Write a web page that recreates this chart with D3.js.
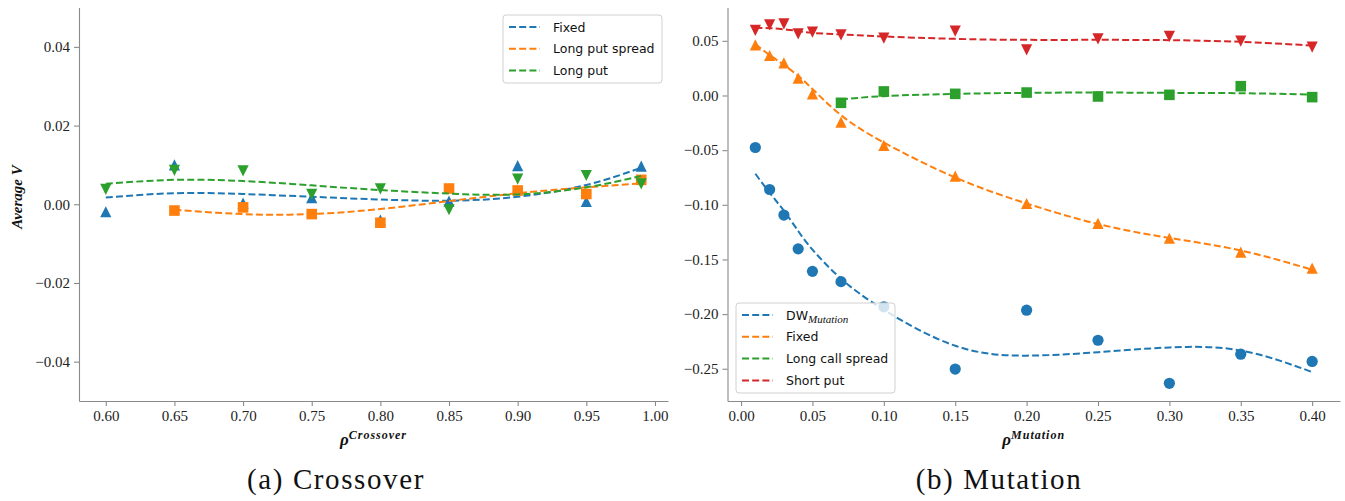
<!DOCTYPE html>
<html><head><meta charset="utf-8">
<script src="https://cdn.jsdelivr.net/npm/d3@7"></script>
<style>body{margin:0;background:#fff}</style>
</head><body><svg id="c" width="1345" height="501"></svg>
<script>
// ---------- data: (a) Crossover ----------
const crossX = [0.60,0.65,0.70,0.75,0.80,0.85,0.90,0.95,0.99];
const crossSpreadX = [0.65,0.70,0.75,0.80,0.85,0.90,0.95,0.99];
const crossFixed = [-0.0019,0.0100,0.0003,0.0017,-0.0040,0.0008,0.0098,0.0007,0.0097];
const crossSpread = [-0.0016,-0.0008,-0.0025,-0.0047,0.0040,0.0035,0.0026,0.0062];
const crossLongPut = [0.0038,0.0086,0.0085,0.0025,0.0039,-0.0014,0.0064,0.0073,0.0052];
const crossFixedFit = [0.0017,0.0028,0.0026,0.0019,0.0012,0.0009,0.0019,0.0049,0.0093];
const crossSpreadFit = [-0.0014,-0.0025,-0.0025,-0.0012,0.0008,0.0028,0.0043,0.0053];
const crossLongPutFit = [0.0052,0.0062,0.0059,0.0048,0.0036,0.0027,0.0025,0.0043,0.0072];
const crossXTicks = [0.60,0.65,0.70,0.75,0.80,0.85,0.90,0.95,1.00];
const crossYTicks = [-0.04,-0.02,0.00,0.02,0.04];

// ---------- data: (b) Mutation ----------
const mutX = [0.01,0.02,0.03,0.04,0.05,0.07,0.10,0.15,0.20,0.25,0.30,0.35,0.40];
const mutSpreadX = [0.07,0.10,0.15,0.20,0.25,0.30,0.35,0.40];
const mutDW = [-0.0476,-0.0860,-0.1094,-0.1403,-0.1609,-0.1703,-0.1933,-0.2503,-0.1964,-0.2239,-0.2633,-0.2367,-0.2433];
const mutFixed = [0.0463,0.0366,0.0299,0.0159,0.0015,-0.0244,-0.0457,-0.0738,-0.0988,-0.1170,-0.1306,-0.1433,-0.1579];
const mutSpread = [-0.0067,0.0037,0.0015,0.0027,-0.0009,0.0006,0.0085,-0.0015];
const mutShortPut = [0.0595,0.0646,0.0655,0.0564,0.0579,0.0555,0.0524,0.0588,0.0418,0.0518,0.0540,0.0497,0.0442];
const mutDWFit = [-0.0716,-0.0890,-0.1055,-0.1240,-0.1410,-0.1676,-0.1960,-0.2290,-0.2380,-0.2348,-0.2305,-0.2333,-0.2530];
const mutFixedFit = [0.0470,0.0370,0.0280,0.0180,0.0060,-0.0180,-0.0430,-0.0750,-0.0988,-0.1176,-0.1303,-0.1418,-0.1594];
const mutSpreadFit = [-0.0037,-0.0006,0.0015,0.0024,0.0027,0.0024,0.0021,0.0009];
const mutShortPutFit = [0.0619,0.0616,0.0605,0.0590,0.0573,0.0558,0.0540,0.0518,0.0509,0.0509,0.0506,0.0491,0.0457];
const mutXTicks = [0.00,0.05,0.10,0.15,0.20,0.25,0.30,0.35,0.40];
const mutYTicks = [-0.25,-0.20,-0.15,-0.10,-0.05,0.00,0.05];

const C = {blue:"#1f77b4", orange:"#ff7f0e", green:"#2ca02c", red:"#d62728"};
const svg = d3.select("#c");
const tickFont = "'Liberation Serif', serif";
const sansFont = "'DejaVu Sans', sans-serif";

function markerPath(kind){
  const s = 5.6;
  if(kind==="up") return `M0,${-s}L${s},${s}L${-s},${s}Z`;
  if(kind==="down") return `M0,${s}L${s},${-s}L${-s},${-s}Z`;
  if(kind==="square") return `M${-5.3},${-5.3}h10.6v10.6h-10.6Z`;
  return d3.symbol(d3.symbolCircle, Math.PI*5.6*5.6)();
}

function panel(cfg){
  const x = d3.scaleLinear().domain(cfg.xdom).range(cfg.xr);
  const y = d3.scaleLinear().domain(cfg.ydom).range(cfg.yr);
  const g = svg.append("g");
  const fmt = d3.format(".2f");
  const ax = g.append("g").attr("transform",`translate(0,${cfg.yr[0]})`)
    .call(d3.axisBottom(x).tickValues(cfg.xticks).tickFormat(fmt).tickSize(5).tickPadding(4).tickSizeOuter(0));
  const ay = g.append("g").attr("transform",`translate(${cfg.xr[0]},0)`)
    .call(d3.axisLeft(y).tickValues(cfg.yticks).tickFormat(fmt).tickSize(5).tickPadding(4).tickSizeOuter(0));
  [ax,ay].forEach(a=>{
    a.select(".domain").attr("stroke","#8a8a8a").attr("stroke-width",1.1);
    a.selectAll(".tick line").attr("stroke","#8a8a8a").attr("stroke-width",1.1);
    a.selectAll(".tick text").attr("fill","#222").style("font-family",tickFont).style("font-size","15px");
  });
  const line = d3.line().x(d=>x(d[0])).y(d=>y(d[1])).curve(d3.curveNatural);
  cfg.series.forEach(s=>{
    const pts = s.xs.map((v,i)=>[v,s.ys[i]]);
    g.append("g").selectAll("path").data(pts).join("path")
      .attr("d",markerPath(s.marker))
      .attr("transform",d=>`translate(${x(d[0])},${y(d[1])})`)
      .attr("fill",s.color);
    const fit = s.xs.map((v,i)=>[v,s.fit[i]]);
    g.append("path").attr("d",line(fit)).attr("fill","none")
      .attr("stroke",s.color).attr("stroke-width",2).attr("stroke-dasharray","7,3.2");
  });
  // legend
  const L = cfg.legend;
  const lg = g.append("g");
  lg.append("rect").attr("x",L.x).attr("y",L.y).attr("width",L.w).attr("height",L.h)
    .attr("rx",3).attr("fill","#fff").attr("fill-opacity",0.8).attr("stroke","#d0d0d0");
  cfg.series.forEach((s,i)=>{
    const yy = L.y + 12 + i*21.8;
    lg.append("line").attr("x1",L.x+6).attr("x2",L.x+37).attr("y1",yy).attr("y2",yy)
      .attr("stroke",s.color).attr("stroke-width",2).attr("stroke-dasharray","7,3.2");
    const t = lg.append("text").attr("x",L.x+50).attr("y",yy+4.5)
      .style("font-family",sansFont).style("font-size","12.5px").attr("fill","#111");
    t.append("tspan").text(s.name);
    if(s.sub) t.append("tspan").attr("dy",3).style("font-family",tickFont)
      .style("font-style","italic").style("font-size","11px").text(s.sub);
  });
  // x label rho^{...}
  const xl = g.append("text").attr("x",(cfg.xr[0]+cfg.xr[1])/2).attr("y",445)
    .attr("text-anchor","middle").style("font-family",tickFont).attr("fill","#111");
  xl.append("tspan").style("font-size","17px").style("font-style","italic").style("font-weight","bold").text("ρ");
  xl.append("tspan").attr("dy",-6).style("font-size","12px").style("font-style","italic")
    .style("font-weight","bold").style("letter-spacing","1px").text(cfg.xsup);
  // caption
  g.append("text").attr("x",cfg.capX).attr("y",489).attr("text-anchor","middle")
    .style("font-family",tickFont).style("font-size","29px").attr("fill","#111")
    .style("letter-spacing","1.6px").text(cfg.caption);
}

panel({
  xdom:[0.5805,1.0095], xr:[79,668], ydom:[-0.05,0.05], yr:[401,7.5],
  xticks:crossXTicks, yticks:crossYTicks, xsup:"Crossover", caption:"(a) Crossover", capX:336,
  legend:{x:503,y:15,w:159,h:68},
  series:[
    {name:"Fixed", xs:crossX, ys:crossFixed, fit:crossFixedFit, color:C.blue, marker:"up"},
    {name:"Long put spread", xs:crossSpreadX, ys:crossSpread, fit:crossSpreadFit, color:C.orange, marker:"square"},
    {name:"Long put", xs:crossX, ys:crossLongPut, fit:crossLongPutFit, color:C.green, marker:"down"}
  ]
});
panel({
  xdom:[-0.0095,0.4195], xr:[727.5,1340], ydom:[-0.2795,0.0805], yr:[401,7.5],
  xticks:mutXTicks, yticks:mutYTicks, xsup:"Mutation", caption:"(b) Mutation", capX:999,
  legend:{x:736,y:303,w:159,h:90},
  series:[
    {name:"DW", sub:"Mutation", xs:mutX, ys:mutDW, fit:mutDWFit, color:C.blue, marker:"circle"},
    {name:"Fixed", xs:mutX, ys:mutFixed, fit:mutFixedFit, color:C.orange, marker:"up"},
    {name:"Long call spread", xs:mutSpreadX, ys:mutSpread, fit:mutSpreadFit, color:C.green, marker:"square"},
    {name:"Short put", xs:mutX, ys:mutShortPut, fit:mutShortPutFit, color:C.red, marker:"down"}
  ]
});
// y label of left panel
svg.append("text").attr("transform","translate(22,197) rotate(-90)").attr("text-anchor","middle")
  .style("font-family",tickFont).style("font-size","15px").style("font-style","italic")
  .style("font-weight","bold").attr("fill","#111").text("Average V");
</script></body></html>
